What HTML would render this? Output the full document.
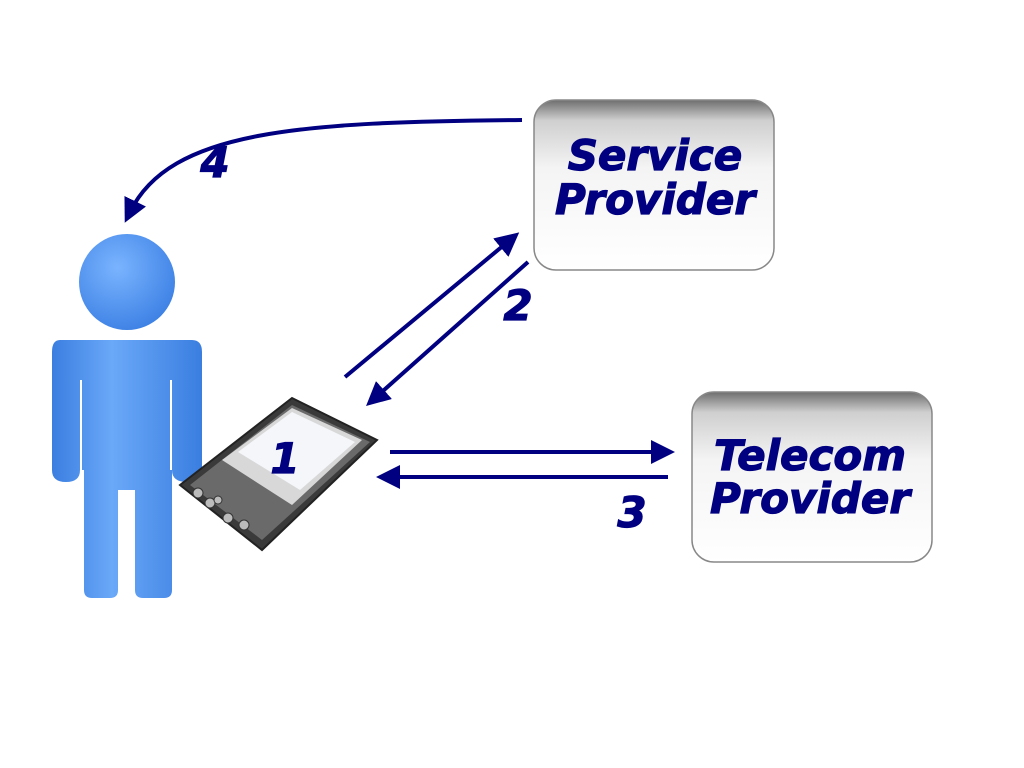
<!DOCTYPE html>
<html><head><style>body{margin:0;background:#fff}svg{display:block}</style></head><body>
<svg width="1024" height="768" viewBox="0 0 1024 768" xmlns="http://www.w3.org/2000/svg">
<defs>
<linearGradient id="box" x1="0" y1="0" x2="0" y2="1">
<stop offset="0" stop-color="#6e6e6e"/><stop offset="0.12" stop-color="#cfcfcf"/><stop offset="0.4" stop-color="#f4f4f4"/><stop offset="1" stop-color="#ffffff"/></linearGradient>
<linearGradient id="blue" x1="0" y1="0" x2="1" y2="0">
<stop offset="0" stop-color="#3a7ee0"/><stop offset="0.4" stop-color="#6aa8f8"/><stop offset="1" stop-color="#3a7ee0"/></linearGradient>
<radialGradient id="head" cx="0.4" cy="0.35" r="0.7"><stop offset="0" stop-color="#7ab4ff"/><stop offset="1" stop-color="#3c80e4"/></radialGradient>
<marker id="ah" markerWidth="6" markerHeight="6" refX="3" refY="3" orient="auto" markerUnits="strokeWidth"><path d="M0,0 L6,3 L0,6 z" fill="#000080"/></marker>
</defs>
<rect x="534" y="100" width="240" height="170" rx="22" fill="url(#box)" stroke="#888" stroke-width="1.5"/>
<rect x="692" y="392" width="240" height="170" rx="22" fill="url(#box)" stroke="#888" stroke-width="1.5"/>
<g font-family="DejaVu Sans, Liberation Sans, sans-serif" font-weight="bold" font-style="italic" fill="#000080" stroke="#000080" stroke-width="1.2" text-anchor="middle" font-size="42">
<text x="655" y="170">Service</text><text x="655" y="214">Provider</text>
<text x="810" y="470">Telecom</text><text x="810" y="513">Provider</text>
<text x="215" y="177">4</text><text x="518" y="320">2</text><text x="632" y="527">3</text>
</g>
<g stroke="#000080" stroke-width="4" fill="none">
<path d="M522,120 C300,122 170,130 130,212" marker-end="url(#ah)"/>
<line x1="345" y1="377" x2="510" y2="240" marker-end="url(#ah)"/>
<line x1="528" y1="262" x2="375" y2="398" marker-end="url(#ah)"/>
<line x1="390" y1="452" x2="663" y2="452" marker-end="url(#ah)"/>
<line x1="668" y1="477" x2="388" y2="477" marker-end="url(#ah)"/>
</g>
<circle cx="127" cy="282" r="48" fill="url(#head)"/>
<g fill="url(#blue)">
<path d="M60,340 H192 Q202,340 202,352 V470 Q202,482 187,482 Q172,482 172,470 V380 H170 V470 H172 V590 Q172,598 164,598 H143 Q135,598 135,590 V490 H118 V590 Q118,598 110,598 H92 Q84,598 84,590 V470 H82 V380 H80 V470 Q80,482 66,482 Q52,482 52,470 V352 Q52,340 60,340 Z"/>
</g>
<g>
<polygon points="180,485 292,398 377,440 262,550" fill="#3a3a3a" stroke="#222" stroke-width="2"/>
<polygon points="190,485 292,405 370,442 262,540" fill="#6a6a6a"/>
<polygon points="222,460 292,408 362,440 292,505" fill="#d8d8d8"/>
<polygon points="238,452 292,412 355,442 300,490" fill="#f4f6fa"/>
<g fill="#bbb" stroke="#333"><circle cx="198" cy="493" r="5"/><circle cx="210" cy="503" r="5"/><circle cx="228" cy="518" r="5"/><circle cx="244" cy="525" r="5"/><circle cx="218" cy="500" r="4"/></g>
</g>
<g font-family="DejaVu Sans, Liberation Sans, sans-serif" font-weight="bold" font-style="italic" fill="#000080" stroke="#000080" stroke-width="1.2" text-anchor="middle" font-size="42"><text x="285" y="473">1</text></g>
</svg>
</body></html>
